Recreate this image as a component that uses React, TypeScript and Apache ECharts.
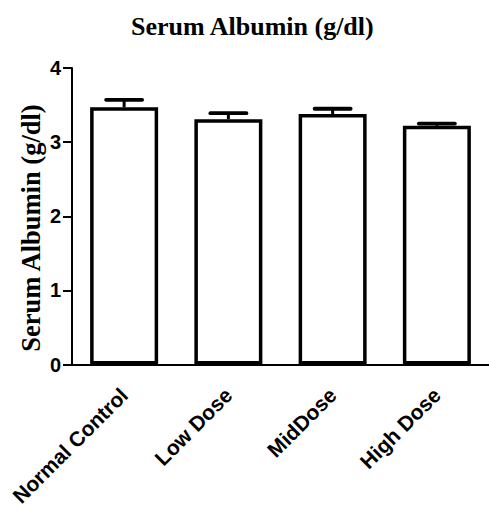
import React, { useEffect, useRef } from "react";
import * as echarts from "echarts";

const categories = ["Normal Control", "Low Dose", "MidDose", "High Dose"];
const means = [3.47, 3.31, 3.38, 3.22];
const sems = [0.1, 0.08, 0.07, 0.03];
const yTicks = [0, 1, 2, 3, 4];
const titleText = "Serum Albumin (g/dl)";
const yAxisName = "Serum Albumin (g/dl)";

export default function App() {
  const ref = useRef<HTMLDivElement>(null);
  useEffect(() => {
    const chart = echarts.init(ref.current!, null, { renderer: "svg" });
    chart.setOption({
      animation: false,
      backgroundColor: "#ffffff",
      title: {
        text: titleText,
        left: 126,
        top: 8,
        textStyle: {
          fontFamily: "Liberation Serif",
          fontWeight: "bold",
          fontSize: 26,
          color: "#000",
        },
      },
      graphic: [
        {
          type: "text",
          x: 31,
          y: 228,
          rotation: Math.PI / 2,
          style: {
            text: yAxisName,
            fontFamily: "Liberation Serif",
            fontWeight: "bold",
            fontSize: 26.5,
            fill: "#000",
            textAlign: "center",
            textVerticalAlign: "middle",
          },
        },
      ],
      grid: { left: 72, top: 68, width: 425, height: 296.5 },
      xAxis: {
        type: "category",
        data: categories,
        axisLine: { lineStyle: { color: "#000", width: 2 } },
        axisTick: { alignWithLabel: true, length: 9, lineStyle: { color: "#000", width: 2 } },
        axisLabel: {
          rotate: 45,
          margin: 27,
          fontFamily: "Liberation Sans",
          fontWeight: "bold",
          fontSize: 21,
          color: "#000",
        },
      },
      yAxis: {
        type: "value",
        min: 0,
        max: 4,
        interval: 1,
        axisLine: { show: true, lineStyle: { color: "#000", width: 2 } },
        axisTick: { show: true, length: 9, lineStyle: { color: "#000", width: 2 } },
        splitLine: { show: false },
        axisLabel: {
          margin: 11,
          fontFamily: "Liberation Sans",
          fontWeight: "bold",
          fontSize: 20,
          color: "#000",
          formatter: (v: number) => (yTicks.includes(v) ? String(v) : ""),
        },
      },
      series: [
        {
          type: "bar",
          data: means,
          barWidth: 68,
          itemStyle: { color: "#fff", borderColor: "#000", borderWidth: 3.5 },
          z: 2,
        },
        {
          type: "custom",
          z: 3,
          data: means.map((m, i) => [i, m, m + sems[i]]),
          renderItem: (params: any, api: any) => {
            const top = api.coord([api.value(0), api.value(2)]);
            const base = api.coord([api.value(0), api.value(1)]);
            const half = 18;
            const st = { stroke: "#000", lineWidth: 3.8, lineCap: "round" };
            return {
              type: "group",
              children: [
                { type: "line", shape: { x1: base[0], y1: base[1], x2: top[0], y2: top[1] }, style: { stroke: "#000", lineWidth: 3 } },
                { type: "line", shape: { x1: top[0] - half, y1: top[1], x2: top[0] + half, y2: top[1] }, style: st },
              ],
            };
          },
        },
      ],
    });
    return () => chart.dispose();
  }, []);
  return (
    <div
      ref={ref}
      style={{ position: "absolute", left: 0, top: 0, width: 489, height: 512 }}
    />
  );
}
